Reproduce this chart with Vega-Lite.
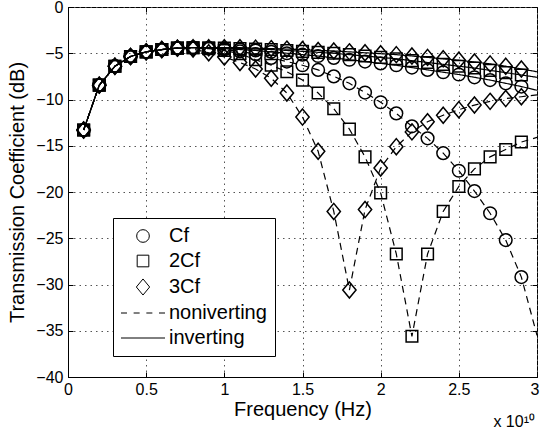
{
  "$schema": "https://vega.github.io/schema/vega-lite/v6.json",
  "width": 469,
  "height": 370,
  "autosize": {"type": "none"},
  "padding": {"left": 68, "top": 7, "right": 3, "bottom": 54},
  "background": "white",
  "title": {"text": "x 10¹⁰", "orient": "bottom", "anchor": "end", "font": "Liberation Sans", "fontSize": 16, "fontWeight": "normal", "color": "black", "offset": -5, "dx": -4},
  "config": {
    "view": {"stroke": "black", "strokeWidth": 1},
    "axis": {"labelFont": "Liberation Sans", "labelFontSize": 16, "labelColor": "black", "titleFont": "Liberation Sans", "titleFontSize": 20, "titleFontWeight": "normal", "titleColor": "black", "domainColor": "black", "tickColor": "black", "gridColor": "#555", "gridDash": [1.5, 4], "gridWidth": 1, "gridOpacity": 1}
  },
  "datasets": {
    "curves": [
      {"cap":"Cf","mode":"noniverting","freq":1e9,"db":-13.3},{"cap":"Cf","mode":"noniverting","freq":2e9,"db":-8.45},{"cap":"Cf","mode":"noniverting","freq":3e9,"db":-6.4},{"cap":"Cf","mode":"noniverting","freq":4e9,"db":-5.35},{"cap":"Cf","mode":"noniverting","freq":5e9,"db":-4.85},{"cap":"Cf","mode":"noniverting","freq":6e9,"db":-4.6},{"cap":"Cf","mode":"noniverting","freq":7e9,"db":-4.45},{"cap":"Cf","mode":"noniverting","freq":8e9,"db":-4.4},{"cap":"Cf","mode":"noniverting","freq":9e9,"db":-4.45},{"cap":"Cf","mode":"noniverting","freq":1e10,"db":-4.6},{"cap":"Cf","mode":"noniverting","freq":1.1e10,"db":-4.8},{"cap":"Cf","mode":"noniverting","freq":1.2e10,"db":-5.1},{"cap":"Cf","mode":"noniverting","freq":1.3e10,"db":-5.5},{"cap":"Cf","mode":"noniverting","freq":1.4e10,"db":-5.9},{"cap":"Cf","mode":"noniverting","freq":1.5e10,"db":-6.3},{"cap":"Cf","mode":"noniverting","freq":1.6e10,"db":-6.8},{"cap":"Cf","mode":"noniverting","freq":1.7e10,"db":-7.5},{"cap":"Cf","mode":"noniverting","freq":1.8e10,"db":-8.25},{"cap":"Cf","mode":"noniverting","freq":1.9e10,"db":-9.25},{"cap":"Cf","mode":"noniverting","freq":2e10,"db":-10.3},{"cap":"Cf","mode":"noniverting","freq":2.1e10,"db":-11.5},{"cap":"Cf","mode":"noniverting","freq":2.2e10,"db":-12.9},{"cap":"Cf","mode":"noniverting","freq":2.3e10,"db":-14.2},{"cap":"Cf","mode":"noniverting","freq":2.4e10,"db":-15.8},{"cap":"Cf","mode":"noniverting","freq":2.5e10,"db":-17.7},{"cap":"Cf","mode":"noniverting","freq":2.6e10,"db":-19.9},{"cap":"Cf","mode":"noniverting","freq":2.7e10,"db":-22.3},{"cap":"Cf","mode":"noniverting","freq":2.8e10,"db":-25.2},{"cap":"Cf","mode":"noniverting","freq":2.9e10,"db":-29.2},{"cap":"Cf","mode":"noniverting","freq":3e10,"db":-35.5},

      {"cap":"2Cf","mode":"noniverting","freq":1e9,"db":-13.3},{"cap":"2Cf","mode":"noniverting","freq":2e9,"db":-8.45},{"cap":"2Cf","mode":"noniverting","freq":3e9,"db":-6.4},{"cap":"2Cf","mode":"noniverting","freq":4e9,"db":-5.35},{"cap":"2Cf","mode":"noniverting","freq":5e9,"db":-4.85},{"cap":"2Cf","mode":"noniverting","freq":6e9,"db":-4.6},{"cap":"2Cf","mode":"noniverting","freq":7e9,"db":-4.45},{"cap":"2Cf","mode":"noniverting","freq":8e9,"db":-4.4},{"cap":"2Cf","mode":"noniverting","freq":9e9,"db":-4.5},{"cap":"2Cf","mode":"noniverting","freq":1e10,"db":-4.7},{"cap":"2Cf","mode":"noniverting","freq":1.1e10,"db":-5.05},{"cap":"2Cf","mode":"noniverting","freq":1.2e10,"db":-5.7},{"cap":"2Cf","mode":"noniverting","freq":1.3e10,"db":-6.3},{"cap":"2Cf","mode":"noniverting","freq":1.4e10,"db":-7.0},{"cap":"2Cf","mode":"noniverting","freq":1.5e10,"db":-7.9},{"cap":"2Cf","mode":"noniverting","freq":1.6e10,"db":-9.3},{"cap":"2Cf","mode":"noniverting","freq":1.7e10,"db":-11.0},{"cap":"2Cf","mode":"noniverting","freq":1.8e10,"db":-13.2},{"cap":"2Cf","mode":"noniverting","freq":1.9e10,"db":-16.2},{"cap":"2Cf","mode":"noniverting","freq":2e10,"db":-20.1},{"cap":"2Cf","mode":"noniverting","freq":2.1e10,"db":-26.7},{"cap":"2Cf","mode":"noniverting","freq":2.2e10,"db":-35.6},{"cap":"2Cf","mode":"noniverting","freq":2.3e10,"db":-26.7},{"cap":"2Cf","mode":"noniverting","freq":2.4e10,"db":-22.1},{"cap":"2Cf","mode":"noniverting","freq":2.5e10,"db":-19.4},{"cap":"2Cf","mode":"noniverting","freq":2.6e10,"db":-17.5},{"cap":"2Cf","mode":"noniverting","freq":2.7e10,"db":-16.2},{"cap":"2Cf","mode":"noniverting","freq":2.8e10,"db":-15.4},{"cap":"2Cf","mode":"noniverting","freq":2.9e10,"db":-14.6},{"cap":"2Cf","mode":"noniverting","freq":3e10,"db":-14.1},

      {"cap":"3Cf","mode":"noniverting","freq":1e9,"db":-13.3},{"cap":"3Cf","mode":"noniverting","freq":2e9,"db":-8.45},{"cap":"3Cf","mode":"noniverting","freq":3e9,"db":-6.4},{"cap":"3Cf","mode":"noniverting","freq":4e9,"db":-5.35},{"cap":"3Cf","mode":"noniverting","freq":5e9,"db":-4.85},{"cap":"3Cf","mode":"noniverting","freq":6e9,"db":-4.6},{"cap":"3Cf","mode":"noniverting","freq":7e9,"db":-4.45},{"cap":"3Cf","mode":"noniverting","freq":8e9,"db":-4.55},{"cap":"3Cf","mode":"noniverting","freq":9e9,"db":-4.95},{"cap":"3Cf","mode":"noniverting","freq":1e10,"db":-5.4},{"cap":"3Cf","mode":"noniverting","freq":1.1e10,"db":-6.0},{"cap":"3Cf","mode":"noniverting","freq":1.2e10,"db":-6.7},{"cap":"3Cf","mode":"noniverting","freq":1.3e10,"db":-7.7},{"cap":"3Cf","mode":"noniverting","freq":1.4e10,"db":-9.3},{"cap":"3Cf","mode":"noniverting","freq":1.5e10,"db":-11.9},{"cap":"3Cf","mode":"noniverting","freq":1.6e10,"db":-15.6},{"cap":"3Cf","mode":"noniverting","freq":1.7e10,"db":-22.1},{"cap":"3Cf","mode":"noniverting","freq":1.8e10,"db":-30.6},{"cap":"3Cf","mode":"noniverting","freq":1.9e10,"db":-21.9},{"cap":"3Cf","mode":"noniverting","freq":2e10,"db":-17.4},{"cap":"3Cf","mode":"noniverting","freq":2.1e10,"db":-15.1},{"cap":"3Cf","mode":"noniverting","freq":2.2e10,"db":-13.5},{"cap":"3Cf","mode":"noniverting","freq":2.3e10,"db":-12.4},{"cap":"3Cf","mode":"noniverting","freq":2.4e10,"db":-11.7},{"cap":"3Cf","mode":"noniverting","freq":2.5e10,"db":-11.1},{"cap":"3Cf","mode":"noniverting","freq":2.6e10,"db":-10.6},{"cap":"3Cf","mode":"noniverting","freq":2.7e10,"db":-10.2},{"cap":"3Cf","mode":"noniverting","freq":2.8e10,"db":-9.9},{"cap":"3Cf","mode":"noniverting","freq":2.9e10,"db":-9.7},{"cap":"3Cf","mode":"noniverting","freq":3e10,"db":-9.5},

      {"cap":"Cf","mode":"inverting","freq":1e9,"db":-13.3},{"cap":"Cf","mode":"inverting","freq":2e9,"db":-8.45},{"cap":"Cf","mode":"inverting","freq":3e9,"db":-6.4},{"cap":"Cf","mode":"inverting","freq":4e9,"db":-5.35},{"cap":"Cf","mode":"inverting","freq":5e9,"db":-4.85},{"cap":"Cf","mode":"inverting","freq":6e9,"db":-4.6},{"cap":"Cf","mode":"inverting","freq":7e9,"db":-4.45},{"cap":"Cf","mode":"inverting","freq":8e9,"db":-4.4},{"cap":"Cf","mode":"inverting","freq":9e9,"db":-4.45},{"cap":"Cf","mode":"inverting","freq":1e10,"db":-4.5},{"cap":"Cf","mode":"inverting","freq":1.1e10,"db":-4.6},{"cap":"Cf","mode":"inverting","freq":1.2e10,"db":-4.7},{"cap":"Cf","mode":"inverting","freq":1.3e10,"db":-4.85},{"cap":"Cf","mode":"inverting","freq":1.4e10,"db":-5.0},{"cap":"Cf","mode":"inverting","freq":1.5e10,"db":-5.15},{"cap":"Cf","mode":"inverting","freq":1.6e10,"db":-5.3},{"cap":"Cf","mode":"inverting","freq":1.7e10,"db":-5.5},{"cap":"Cf","mode":"inverting","freq":1.8e10,"db":-5.7},{"cap":"Cf","mode":"inverting","freq":1.9e10,"db":-5.9},{"cap":"Cf","mode":"inverting","freq":2e10,"db":-6.1},{"cap":"Cf","mode":"inverting","freq":2.1e10,"db":-6.3},{"cap":"Cf","mode":"inverting","freq":2.2e10,"db":-6.55},{"cap":"Cf","mode":"inverting","freq":2.3e10,"db":-6.8},{"cap":"Cf","mode":"inverting","freq":2.4e10,"db":-7.05},{"cap":"Cf","mode":"inverting","freq":2.5e10,"db":-7.3},{"cap":"Cf","mode":"inverting","freq":2.6e10,"db":-7.6},{"cap":"Cf","mode":"inverting","freq":2.7e10,"db":-7.9},{"cap":"Cf","mode":"inverting","freq":2.8e10,"db":-8.25},{"cap":"Cf","mode":"inverting","freq":2.9e10,"db":-8.6},{"cap":"Cf","mode":"inverting","freq":3e10,"db":-9.0},

      {"cap":"2Cf","mode":"inverting","freq":1e9,"db":-13.3},{"cap":"2Cf","mode":"inverting","freq":2e9,"db":-8.45},{"cap":"2Cf","mode":"inverting","freq":3e9,"db":-6.4},{"cap":"2Cf","mode":"inverting","freq":4e9,"db":-5.35},{"cap":"2Cf","mode":"inverting","freq":5e9,"db":-4.85},{"cap":"2Cf","mode":"inverting","freq":6e9,"db":-4.6},{"cap":"2Cf","mode":"inverting","freq":7e9,"db":-4.45},{"cap":"2Cf","mode":"inverting","freq":8e9,"db":-4.4},{"cap":"2Cf","mode":"inverting","freq":9e9,"db":-4.4},{"cap":"2Cf","mode":"inverting","freq":1e10,"db":-4.45},{"cap":"2Cf","mode":"inverting","freq":1.1e10,"db":-4.5},{"cap":"2Cf","mode":"inverting","freq":1.2e10,"db":-4.55},{"cap":"2Cf","mode":"inverting","freq":1.3e10,"db":-4.6},{"cap":"2Cf","mode":"inverting","freq":1.4e10,"db":-4.7},{"cap":"2Cf","mode":"inverting","freq":1.5e10,"db":-4.8},{"cap":"2Cf","mode":"inverting","freq":1.6e10,"db":-4.9},{"cap":"2Cf","mode":"inverting","freq":1.7e10,"db":-5.0},{"cap":"2Cf","mode":"inverting","freq":1.8e10,"db":-5.15},{"cap":"2Cf","mode":"inverting","freq":1.9e10,"db":-5.3},{"cap":"2Cf","mode":"inverting","freq":2e10,"db":-5.45},{"cap":"2Cf","mode":"inverting","freq":2.1e10,"db":-5.6},{"cap":"2Cf","mode":"inverting","freq":2.2e10,"db":-5.8},{"cap":"2Cf","mode":"inverting","freq":2.3e10,"db":-6.0},{"cap":"2Cf","mode":"inverting","freq":2.4e10,"db":-6.2},{"cap":"2Cf","mode":"inverting","freq":2.5e10,"db":-6.4},{"cap":"2Cf","mode":"inverting","freq":2.6e10,"db":-6.6},{"cap":"2Cf","mode":"inverting","freq":2.7e10,"db":-6.85},{"cap":"2Cf","mode":"inverting","freq":2.8e10,"db":-7.1},{"cap":"2Cf","mode":"inverting","freq":2.9e10,"db":-7.35},{"cap":"2Cf","mode":"inverting","freq":3e10,"db":-7.6},

      {"cap":"3Cf","mode":"inverting","freq":1e9,"db":-13.3},{"cap":"3Cf","mode":"inverting","freq":2e9,"db":-8.45},{"cap":"3Cf","mode":"inverting","freq":3e9,"db":-6.4},{"cap":"3Cf","mode":"inverting","freq":4e9,"db":-5.35},{"cap":"3Cf","mode":"inverting","freq":5e9,"db":-4.85},{"cap":"3Cf","mode":"inverting","freq":6e9,"db":-4.6},{"cap":"3Cf","mode":"inverting","freq":7e9,"db":-4.45},{"cap":"3Cf","mode":"inverting","freq":8e9,"db":-4.4},{"cap":"3Cf","mode":"inverting","freq":9e9,"db":-4.4},{"cap":"3Cf","mode":"inverting","freq":1e10,"db":-4.4},{"cap":"3Cf","mode":"inverting","freq":1.1e10,"db":-4.4},{"cap":"3Cf","mode":"inverting","freq":1.2e10,"db":-4.45},{"cap":"3Cf","mode":"inverting","freq":1.3e10,"db":-4.5},{"cap":"3Cf","mode":"inverting","freq":1.4e10,"db":-4.55},{"cap":"3Cf","mode":"inverting","freq":1.5e10,"db":-4.6},{"cap":"3Cf","mode":"inverting","freq":1.6e10,"db":-4.7},{"cap":"3Cf","mode":"inverting","freq":1.7e10,"db":-4.75},{"cap":"3Cf","mode":"inverting","freq":1.8e10,"db":-4.85},{"cap":"3Cf","mode":"inverting","freq":1.9e10,"db":-4.95},{"cap":"3Cf","mode":"inverting","freq":2e10,"db":-5.05},{"cap":"3Cf","mode":"inverting","freq":2.1e10,"db":-5.15},{"cap":"3Cf","mode":"inverting","freq":2.2e10,"db":-5.3},{"cap":"3Cf","mode":"inverting","freq":2.3e10,"db":-5.45},{"cap":"3Cf","mode":"inverting","freq":2.4e10,"db":-5.6},{"cap":"3Cf","mode":"inverting","freq":2.5e10,"db":-5.75},{"cap":"3Cf","mode":"inverting","freq":2.6e10,"db":-5.95},{"cap":"3Cf","mode":"inverting","freq":2.7e10,"db":-6.15},{"cap":"3Cf","mode":"inverting","freq":2.8e10,"db":-6.4},{"cap":"3Cf","mode":"inverting","freq":2.9e10,"db":-6.7},{"cap":"3Cf","mode":"inverting","freq":3e10,"db":-7.0}
    ]
  },
  "data": {"name": "curves"},
  "layer": [
    {
      "mark": {"type": "line", "color": "black", "strokeWidth": 1.2, "clip": true},
      "encoding": {
        "x": {"field": "freq", "type": "quantitative", "scale": {"domain": [0, 3e10], "nice": false, "zero": false},
              "axis": {"orient": "bottom", "values": [0, 5e9, 1e10, 1.5e10, 2e10, 2.5e10, 3e10], "labelExpr": "format(datum.value/1e10, '~g')", "title": "Frequency (Hz)", "grid": true, "tickSize": -5, "labelPadding": 9, "titlePadding": 2, "labelFlush": false,
                       "labelAlign": {"condition": {"test": "datum.value >= 3e10", "value": "right"}, "value": "center"},
                       "labelOffset": {"condition": {"test": "datum.value >= 3e10", "value": 2}, "value": 0}}},
        "y": {"field": "db", "type": "quantitative", "scale": {"domain": [-40, 0], "nice": false, "zero": false},
              "axis": {"orient": "left", "values": [-40, -35, -30, -25, -20, -15, -10, -5, 0], "title": "Transmission Coefficient (dB)", "grid": true, "tickSize": -5, "labelPadding": 10, "titlePadding": 8}},
        "detail": {"field": "cap", "type": "nominal"},
        "strokeDash": {"field": "mode", "type": "nominal", "scale": {"domain": ["noniverting", "inverting"], "range": [[7, 5], [1, 0]]}, "legend": null}
      }
    },
    {
      "transform": [{"filter": "datum.freq < 2.95e10"}],
      "mark": {"type": "point", "filled": false, "color": "black", "strokeWidth": 1.5, "size": 160, "opacity": 1, "clip": true},
      "encoding": {
        "x": {"field": "freq", "type": "quantitative", "axis": {"orient": "top", "values": [0, 5e9, 1e10, 1.5e10, 2e10, 2.5e10, 3e10], "labels": false, "title": null, "grid": false, "tickSize": -5, "domain": false}},
        "y": {"field": "db", "type": "quantitative", "axis": {"orient": "right", "values": [-40, -35, -30, -25, -20, -15, -10, -5, 0], "labels": false, "title": null, "grid": false, "tickSize": -5, "domain": false}},
        "shape": {"field": "cap", "type": "nominal",
          "scale": {"domain": ["Cf", "2Cf", "3Cf", "noniverting", "inverting"],
                    "range": ["circle", "M-0.92,-0.92L0.92,-0.92L0.92,0.92L-0.92,0.92Z", "M0,-1.27L1.05,0L0,1.27L-1.05,0Z", "M-3.48,0L-2.53,0M-1.48,0L-0.53,0M0.53,0L1.48,0M2.53,0L3.48,0", "M-3.48,0L3.48,0"]},
          "legend": {"title": null, "orient": "none", "legendX": 45, "legendY": 211, "padding": 8, "strokeColor": "black", "fillColor": "white", "cornerRadius": 0,
                     "labelFont": "Liberation Sans", "labelFontSize": 20, "labelColor": "black", "labelOffset": 16, "symbolOffset": 12, "rowPadding": 5,
                     "symbolStrokeColor": "black", "symbolFillColor": "transparent", "symbolStrokeWidth": 1, "symbolSize": 160, "symbolOpacity": 1}
        }
      }
    }
  ],
  "resolve": {"axis": {"x": "independent", "y": "independent"}}
}
